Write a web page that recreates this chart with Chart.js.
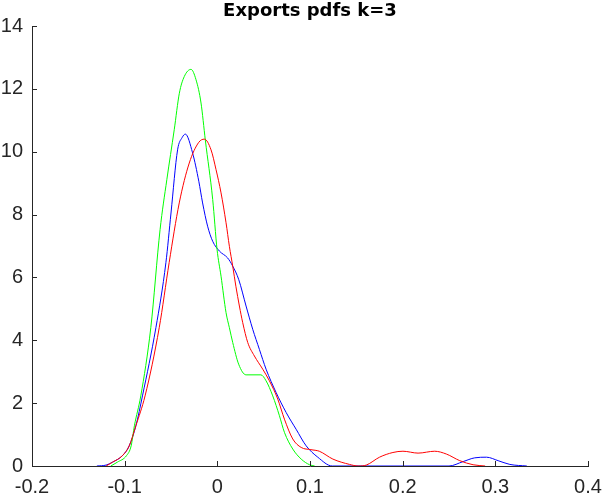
<!DOCTYPE html>
<html>
<head>
<meta charset="utf-8">
<script src="https://cdn.jsdelivr.net/npm/chart.js@4.4.1/dist/chart.umd.min.js"></script>
<style>
  html, body { margin: 0; padding: 0; background: #fff; }
  #wrap { width: 605px; height: 496px; }
</style>
</head>
<body>
<div id="wrap"><canvas id="chart"></canvas></div>
<script>
// kernel density estimates
const redX = [-0.12, -0.1132, -0.1024, -0.0951, -0.0879, -0.078, -0.0627, -0.052, -0.0411,
  -0.0303, -0.02, -0.014, -0.0068, -0.0014, 0.004, 0.0094, 0.013, 0.0166, 0.020,
  0.0238, 0.0274, 0.0328, 0.04, 0.049, 0.0562, 0.0652, 0.0724, 0.0814, 0.0905,
  0.101, 0.110, 0.1247, 0.1427, 0.152, 0.1608, 0.175, 0.1895, 0.2003, 0.2166,
  0.2346, 0.2472, 0.2616, 0.276, 0.289];
const redY = [0, 0.12, 0.33, 0.64, 1.28, 2.23, 4.40, 6.47, 8.37,
  9.64, 10.30, 10.40, 10.06, 9.43, 8.69, 7.74, 6.99, 6.36, 5.72,
  5.09, 4.56, 3.93, 3.50, 3.08, 2.71, 2.13, 1.49, 0.86, 0.59,
  0.52, 0.47, 0.22, 0.05, 0, 0.03, 0.28, 0.43, 0.47, 0.41,
  0.47, 0.38, 0.17, 0.04, 0];

const greenX = [-0.115, -0.108, -0.098, -0.093, -0.0895, -0.0826, -0.0718, -0.0618,
  -0.0545, -0.0465, -0.041, -0.0357, -0.0284, -0.023, -0.0176, -0.013, -0.005, -0.0003,
  0.004, 0.0094, 0.013, 0.0166, 0.023, 0.031, 0.047, 0.0526, 0.0598, 0.067,
  0.0724, 0.0814, 0.0905, 0.0995, 0.105];
const greenY = [0, 0.12, 0.33, 0.64, 1.28, 2.23, 4.40, 7.52,
  9.11, 10.70, 11.86, 12.39, 12.62, 12.29, 11.55, 10.38, 8.48, 6.89,
  6.04, 4.88, 4.40, 3.93, 3.24, 2.90, 2.90, 2.71, 2.23, 1.60,
  1.07, 0.54, 0.22, 0.04, 0];

const blueX = [-0.13, -0.12, -0.1132, -0.1024, -0.0951, -0.0879, -0.0808, -0.0663, -0.0555,
  -0.05, -0.0429, -0.038, -0.0345, -0.0267, -0.02, -0.0159, -0.0105, -0.005, 0.0022,
  0.0111, 0.0166, 0.023, 0.031, 0.0382, 0.0454, 0.0526, 0.0634, 0.0743, 0.085,
  0.0959, 0.1084, 0.124, 0.25, 0.2652, 0.2778, 0.2905, 0.303, 0.3157, 0.334];
const blueY = [0, 0.03, 0.12, 0.33, 0.64, 1.28, 2.23, 4.40, 6.47,
  8.05, 10.06, 10.45, 10.56, 9.96, 9.06, 8.37, 7.63, 7.15, 6.84,
  6.62, 6.36, 5.94, 5.09, 4.35, 3.71, 3.08, 2.34, 1.70, 1.17,
  0.64, 0.28, 0, 0, 0.14, 0.26, 0.28, 0.17, 0.05, 0];

const xTicks = [-0.2, -0.1, 0, 0.1, 0.2, 0.3, 0.4];
const xTickLabels = ['-0.2', '-0.1', '0', '0.1', '0.2', '0.3', '0.4'];
const yTickLabels = ['0', '2', '4', '6', '8', '10', '12', '14'];
const titleText = 'Exports pdfs k=3';

const axisColor = '#262626';
const tickFont = { family: "'Liberation Sans', Arial, sans-serif", size: 20 };

const toPoints = (xs, ys) => xs.map((x, i) => ({ x: x, y: ys[i] }));

const makeSet = (label, xs, ys, color) => ({
  label: label,
  data: toPoints(xs, ys),
  borderColor: color,
  backgroundColor: color,
  borderWidth: 1,
  pointRadius: 0,
  showLine: true,
  cubicInterpolationMode: 'monotone',
  fill: false
});

// inward tick marks and a title centred over the plot area
const axesExtras = {
  id: 'axesExtras',
  afterDraw(chart) {
    const ctx = chart.ctx;
    const xs = chart.scales.x, ys = chart.scales.y;
    const area = chart.chartArea;
    ctx.save();
    ctx.strokeStyle = axisColor;
    ctx.lineWidth = 1;
    ctx.beginPath();
    xTicks.forEach(v => {
      const px = Math.round(xs.getPixelForValue(v)) + 0.5;
      ctx.moveTo(px, area.bottom);
      ctx.lineTo(px, area.bottom - 5);
    });
    yTickLabels.forEach(v => {
      const py = Math.round(ys.getPixelForValue(Number(v))) + 0.5;
      ctx.moveTo(area.left, py);
      ctx.lineTo(area.left + 5, py);
    });
    ctx.stroke();

    ctx.fillStyle = '#000';
    ctx.font = "bold 18px 'DejaVu Sans', sans-serif";
    ctx.textAlign = 'center';
    ctx.textBaseline = 'alphabetic';
    ctx.fillText(titleText, (area.left + area.right) / 2, 16);
    ctx.restore();
  }
};

new Chart(document.getElementById('chart'), {
  type: 'scatter',
  data: {
    datasets: [
      makeSet('red', redX, redY, '#ff0000'),
      makeSet('green', greenX, greenY, '#00ff00'),
      makeSet('blue', blueX, blueY, '#0000ff')
    ]
  },
  options: {
    responsive: true,
    maintainAspectRatio: false,
    animation: false,
    layout: { padding: { left: 0, right: 17, top: 26, bottom: 0 } },
    plugins: {
      legend: { display: false },
      tooltip: { enabled: false },
      title: { display: false }
    },
    scales: {
      x: {
        type: 'linear',
        min: -0.2,
        max: 0.4,
        afterBuildTicks: axis => { axis.ticks = xTicks.map(v => ({ value: v })); },
        afterFit: axis => { axis.height = 30; axis.paddingLeft = 0; axis.paddingRight = 0; },
        grid: { display: false, drawTicks: false },
        border: { display: true, color: axisColor, width: 1 },
        ticks: {
          color: axisColor,
          font: tickFont,
          padding: 9,
          maxRotation: 0,
          autoSkip: false,
          callback: (value) => xTickLabels[xTicks.findIndex(t => Math.abs(t - value) < 1e-9)]
        }
      },
      y: {
        type: 'linear',
        min: 0,
        max: 14,
        afterBuildTicks: axis => { axis.ticks = yTickLabels.map(v => ({ value: Number(v) })); },
        afterFit: axis => { axis.width = 32; axis.paddingTop = 0; axis.paddingBottom = 0; },
        grid: { display: false, drawTicks: false },
        border: { display: true, color: axisColor, width: 1 },
        ticks: {
          color: axisColor,
          font: tickFont,
          padding: 9,
          autoSkip: false,
          callback: (value) => String(value)
        }
      }
    }
  },
  plugins: [axesExtras]
});
</script>
</body>
</html>
